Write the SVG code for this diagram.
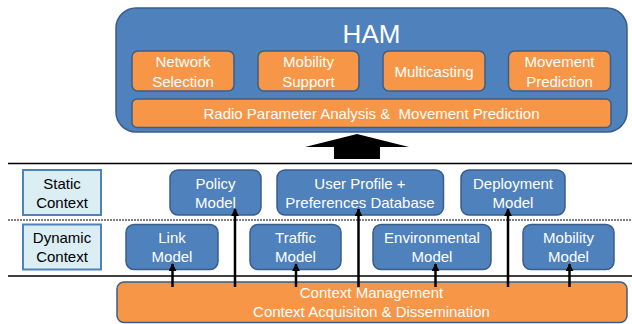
<svg xmlns="http://www.w3.org/2000/svg" width="632" height="324" viewBox="0 0 632 324">
<defs>
<marker id="ah" viewBox="0 0 10 10" refX="9" refY="5" markerWidth="3.2" markerHeight="3.2" orient="auto" markerUnits="strokeWidth">
<path d="M0,0 L10,5 L0,10 z" fill="#000"/>
</marker>
</defs>
<style>
text{font-family:"Liberation Sans",Arial,sans-serif;font-size:15px;text-anchor:middle}
.w{fill:#fff}
.k{fill:#000}
.blue{fill:#4F81BD;stroke:#385D8A;stroke-width:1.5}
.org{fill:#F79646;stroke:#3A5F8B;stroke-width:1.5}
.lbl{fill:#DBEEF4;stroke:#4F81BD;stroke-width:2}
.ln{stroke:#000;stroke-width:1.5}
.dot{stroke:#000;stroke-width:1;stroke-dasharray:2,1}
.arr{stroke:#000;stroke-width:2.5;fill:none;marker-end:url(#ah)}
</style>
<rect width="632" height="324" fill="#fff"/>

<g id="ham">
<rect class="blue" x="116" y="8" width="511" height="124" rx="20"/>
<text class="w" x="371.5" y="43" style="font-size:26px">HAM</text>
</g>
<g id="network-selection">
<rect class="org" x="132" y="51" width="102" height="40" rx="6"/>
<text class="w" x="183" y="67">Network</text>
<text class="w" x="183" y="86.5">Selection</text>
</g>
<g id="mobility-support">
<rect class="org" x="258" y="51" width="101" height="40" rx="6"/>
<text class="w" x="308.5" y="67">Mobility</text>
<text class="w" x="308.5" y="86.5">Support</text>
</g>
<g id="multicasting">
<rect class="org" x="383" y="51" width="102" height="40" rx="6"/>
<text class="w" x="434" y="76.5">Multicasting</text>
</g>
<g id="movement-prediction">
<rect class="org" x="508.5" y="51" width="102" height="40" rx="6"/>
<text class="w" x="559.5" y="67">Movement</text>
<text class="w" x="559.5" y="86.5">Prediction</text>
</g>
<g id="radio-parameter">
<rect class="org" x="132" y="99" width="479" height="28.5" rx="5"/>
<text class="w" x="371.5" y="118.5" xml:space="preserve">Radio Parameter Analysis &amp;  Movement Prediction</text>
</g>

<g id="big-arrow">
<polygon points="357,134 409,147 380,147 380,159 334,159 334,147 305,147" fill="#000"/>
</g>

<g id="separators">
<line class="ln" x1="8" y1="163.5" x2="632" y2="163.5"/>
<line class="dot" x1="8" y1="220" x2="632" y2="220"/>
<line class="ln" x1="8" y1="276" x2="632" y2="276"/>
</g>

<g id="static-context">
<rect class="lbl" x="23" y="170" width="78" height="45"/>
<text class="k" x="62" y="188.5">Static</text>
<text class="k" x="62" y="208">Context</text>
</g>
<g id="dynamic-context">
<rect class="lbl" x="23" y="224.5" width="78" height="45"/>
<text class="k" x="62" y="242.5">Dynamic</text>
<text class="k" x="62" y="262">Context</text>
</g>

<g id="policy-model">
<rect class="blue" x="170" y="170" width="91" height="45" rx="8"/>
<text class="w" x="215.5" y="188.5">Policy</text>
<text class="w" x="215.5" y="208">Model</text>
</g>
<g id="user-profile">
<rect class="blue" x="277" y="170" width="166.5" height="45" rx="8"/>
<text class="w" x="360" y="188.5">User Profile +</text>
<text class="w" x="360" y="208">Preferences Database</text>
</g>
<g id="deployment-model">
<rect class="blue" x="461" y="170" width="104" height="45" rx="8"/>
<text class="w" x="513" y="188.5">Deployment</text>
<text class="w" x="513" y="208">Model</text>
</g>
<g id="link-model">
<rect class="blue" x="126" y="224.5" width="92" height="45" rx="8"/>
<text class="w" x="172" y="242.5">Link</text>
<text class="w" x="172" y="262">Model</text>
</g>
<g id="traffic-model">
<rect class="blue" x="250" y="224.5" width="91" height="45" rx="8"/>
<text class="w" x="295.5" y="242.5">Traffic</text>
<text class="w" x="295.5" y="262">Model</text>
</g>
<g id="environmental-model">
<rect class="blue" x="373" y="224.5" width="118" height="45" rx="8"/>
<text class="w" x="432" y="242.5">Environmental</text>
<text class="w" x="432" y="262">Model</text>
</g>
<g id="mobility-model">
<rect class="blue" x="523" y="224.5" width="91" height="45" rx="8"/>
<text class="w" x="568.5" y="242.5">Mobility</text>
<text class="w" x="568.5" y="262">Model</text>
</g>

<g id="context-management">
<rect class="org" x="117" y="282" width="510" height="40.5" rx="7"/>
<text class="w" x="371.5" y="297.5">Context Management</text>
<text class="w" x="371.5" y="317">Context Acquisiton &amp; Dissemination</text>
</g>

<g id="connectors">
<line class="arr" x1="172.5" y1="287" x2="172.5" y2="264"/>
<line class="arr" x1="235" y1="287" x2="235" y2="209"/>
<line class="arr" x1="296" y1="287" x2="296" y2="264"/>
<line class="arr" x1="358.5" y1="287" x2="358.5" y2="209"/>
<line class="arr" x1="435.5" y1="287" x2="435.5" y2="264"/>
<line class="arr" x1="508" y1="287" x2="508" y2="209"/>
<line class="arr" x1="569.5" y1="287" x2="569.5" y2="264"/>
</g>
</svg>
